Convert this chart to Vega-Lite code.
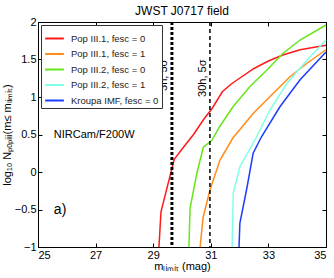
{
  "$schema": "https://vega.github.io/schema/vega-lite/v6.json",
  "width": 288,
  "height": 225,
  "autosize": {"type": "none"},
  "padding": {"left": 38, "top": 22, "right": 8, "bottom": 31},
  "background": "white",
  "title": {"text": "JWST J0717 field", "fontSize": 12, "fontWeight": "normal", "font": "Liberation Sans", "color": "black", "offset": -2},
  "config": {
    "font": "Liberation Sans",
    "view": {"stroke": "black", "strokeWidth": 1},
    "axis": {"domain": false, "grid": false, "tickColor": "black", "tickSize": -4, "labelFontSize": 11, "labelColor": "black", "titleFontSize": 11, "titleFontWeight": "normal", "titleColor": "black", "labelPadding": 6}
  },
  "resolve": {"axis": {"x": "independent", "y": "independent"}},
  "layer": [
    {
      "data": {"values": [
        {"s": "Pop III.1, fesc = 0", "m": 29.2, "y": -1},
        {"s": "Pop III.1, fesc = 0", "m": 29.27, "y": -0.53},
        {"s": "Pop III.1, fesc = 0", "m": 29.73, "y": 0.17},
        {"s": "Pop III.1, fesc = 0", "m": 30.05, "y": 0.33},
        {"s": "Pop III.1, fesc = 0", "m": 30.4, "y": 0.5},
        {"s": "Pop III.1, fesc = 0", "m": 30.75, "y": 0.7},
        {"s": "Pop III.1, fesc = 0", "m": 31.05, "y": 0.85},
        {"s": "Pop III.1, fesc = 0", "m": 31.4, "y": 1.07},
        {"s": "Pop III.1, fesc = 0", "m": 31.7, "y": 1.17},
        {"s": "Pop III.1, fesc = 0", "m": 32.0, "y": 1.25},
        {"s": "Pop III.1, fesc = 0", "m": 32.5, "y": 1.38},
        {"s": "Pop III.1, fesc = 0", "m": 33.0, "y": 1.48},
        {"s": "Pop III.1, fesc = 0", "m": 33.5, "y": 1.56},
        {"s": "Pop III.1, fesc = 0", "m": 34.1, "y": 1.63},
        {"s": "Pop III.1, fesc = 0", "m": 35.0, "y": 1.69},
        {"s": "Pop III.1, fesc = 1", "m": 30.63, "y": -1},
        {"s": "Pop III.1, fesc = 1", "m": 30.73, "y": -0.61},
        {"s": "Pop III.1, fesc = 1", "m": 30.97, "y": -0.24},
        {"s": "Pop III.1, fesc = 1", "m": 31.32, "y": 0.16},
        {"s": "Pop III.1, fesc = 1", "m": 31.76, "y": 0.45},
        {"s": "Pop III.1, fesc = 1", "m": 32.47, "y": 0.78},
        {"s": "Pop III.1, fesc = 1", "m": 33.17, "y": 1.05},
        {"s": "Pop III.1, fesc = 1", "m": 33.75, "y": 1.27},
        {"s": "Pop III.1, fesc = 1", "m": 34.34, "y": 1.45},
        {"s": "Pop III.1, fesc = 1", "m": 35.0, "y": 1.63},
        {"s": "Pop III.2, fesc = 0", "m": 30.24, "y": -1},
        {"s": "Pop III.2, fesc = 0", "m": 30.28, "y": -0.48},
        {"s": "Pop III.2, fesc = 0", "m": 30.52, "y": -0.01},
        {"s": "Pop III.2, fesc = 0", "m": 30.74, "y": 0.33},
        {"s": "Pop III.2, fesc = 0", "m": 31.03, "y": 0.42},
        {"s": "Pop III.2, fesc = 0", "m": 31.3, "y": 0.6},
        {"s": "Pop III.2, fesc = 0", "m": 31.77, "y": 0.87},
        {"s": "Pop III.2, fesc = 0", "m": 32.36, "y": 1.14},
        {"s": "Pop III.2, fesc = 0", "m": 32.95, "y": 1.36},
        {"s": "Pop III.2, fesc = 0", "m": 33.5, "y": 1.58},
        {"s": "Pop III.2, fesc = 0", "m": 34.1, "y": 1.76},
        {"s": "Pop III.2, fesc = 0", "m": 35.0, "y": 1.96},
        {"s": "Pop III.2, fesc = 1", "m": 31.74, "y": -1},
        {"s": "Pop III.2, fesc = 1", "m": 31.78, "y": -0.28},
        {"s": "Pop III.2, fesc = 1", "m": 32.01, "y": 0.07},
        {"s": "Pop III.2, fesc = 1", "m": 32.55, "y": 0.44},
        {"s": "Pop III.2, fesc = 1", "m": 33.06, "y": 0.83},
        {"s": "Pop III.2, fesc = 1", "m": 33.64, "y": 1.18},
        {"s": "Pop III.2, fesc = 1", "m": 34.34, "y": 1.49},
        {"s": "Pop III.2, fesc = 1", "m": 35.0, "y": 1.76},
        {"s": "Kroupa IMF, fesc = 0", "m": 31.98, "y": -1},
        {"s": "Kroupa IMF, fesc = 0", "m": 32.01, "y": -0.68},
        {"s": "Kroupa IMF, fesc = 0", "m": 32.26, "y": -0.2},
        {"s": "Kroupa IMF, fesc = 0", "m": 32.47, "y": 0.25},
        {"s": "Kroupa IMF, fesc = 0", "m": 32.76, "y": 0.47},
        {"s": "Kroupa IMF, fesc = 0", "m": 33.4, "y": 0.87},
        {"s": "Kroupa IMF, fesc = 0", "m": 34.1, "y": 1.23},
        {"s": "Kroupa IMF, fesc = 0", "m": 35.0, "y": 1.6}
      ]},
      "mark": {"type": "line", "strokeWidth": 1.5},
      "encoding": {
        "x": {"field": "m", "type": "quantitative", "scale": {"domain": [25, 35], "nice": false, "zero": false},
              "axis": {"orient": "bottom", "values": [25, 27, 29, 31, 33, 35], "title": "mₗᵢₘᵢₜ (mag)", "titlePadding": 0}},
        "y": {"field": "y", "type": "quantitative", "scale": {"domain": [-1, 2], "nice": false, "zero": false},
              "axis": {"orient": "left", "values": [-1, -0.5, 0, 0.5, 1, 1.5, 2], "format": "~g", "title": "log₁₀ Nₚₒₚᵢᵢᵢ(m≤ mₗᵢₘᵢₜ)", "titlePadding": 2}},
        "color": {"field": "s", "type": "nominal",
          "scale": {"domain": ["Pop III.1, fesc = 0", "Pop III.1, fesc = 1", "Pop III.2, fesc = 0", "Pop III.2, fesc = 1", "Kroupa IMF, fesc = 0"],
                    "range": ["#ff1a1a", "#ff8c1a", "#66e61a", "#80ffe6", "#1a3dff"]},
          "legend": {"orient": "top-left", "offset": 3, "title": null, "strokeColor": "#333333", "fillColor": "white", "padding": 3,
                     "symbolType": "stroke", "symbolStrokeWidth": 2, "symbolSize": 350, "labelFontSize": 9.5, "labelColor": "#222222", "rowPadding": 0.5, "labelOffset": 6}}
      }
    },
    {
      "data": {"values": [{"m": 29.65, "k": "3h"}]},
      "mark": {"type": "rule", "color": "black", "strokeWidth": 3, "strokeDash": [3, 2]},
      "encoding": {"x": {"field": "m", "type": "quantitative", "axis": null}}
    },
    {
      "data": {"values": [{"m": 30.97, "k": "30h"}]},
      "mark": {"type": "rule", "color": "black", "strokeWidth": 1.5, "strokeDash": [4, 3]},
      "encoding": {"x": {"field": "m", "type": "quantitative", "axis": null}}
    },
    {
      "data": {"values": [{"m": 29.37, "y": 1.29, "t": "3h, 5σ"}, {"m": 30.72, "y": 1.25, "t": "30h, 5σ"}]},
      "mark": {"type": "text", "angle": 270, "fontSize": 11, "color": "black", "align": "center", "baseline": "middle"},
      "encoding": {"x": {"field": "m", "type": "quantitative", "axis": null}, "y": {"field": "y", "type": "quantitative", "axis": null}, "text": {"field": "t"}}
    },
    {
      "data": {"values": [{"m": 25.55, "y": 0.5, "t": "NIRCam/F200W", "f": 11}, {"m": 25.55, "y": -0.5, "t": "a)", "f": 14}]},
      "mark": {"type": "text", "align": "left", "baseline": "middle", "color": "black"},
      "encoding": {
        "x": {"field": "m", "type": "quantitative", "axis": {"orient": "top", "values": [25, 27, 29, 31, 33, 35], "labels": false, "title": null}},
        "y": {"field": "y", "type": "quantitative", "axis": {"orient": "right", "values": [-1, -0.5, 0, 0.5, 1, 1.5, 2], "labels": false, "title": null}},
        "text": {"field": "t"},
        "size": {"field": "f", "type": "quantitative", "scale": null, "legend": null}
      }
    }
  ]
}
